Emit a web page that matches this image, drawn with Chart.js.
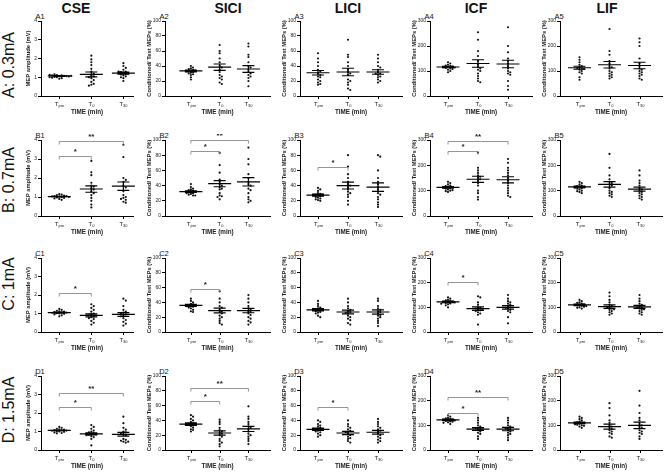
<!DOCTYPE html>
<html><head><meta charset="utf-8">
<script src="https://cdn.jsdelivr.net/npm/chart.js@4.4.1/dist/chart.umd.min.js"></script>
<style>
body{margin:0;background:#fff;width:669px;height:474px;position:relative;overflow:hidden;font-family:"Liberation Sans",Arial,sans-serif;color:#111}
canvas{position:absolute}
.hdr{position:absolute;font-weight:bold;font-size:14px;transform:translate(-50%,-50%);white-space:nowrap}
.row{position:absolute;font-size:16px;transform:translate(-50%,-50%) rotate(-90deg);white-space:nowrap}
.pl{position:absolute;font-size:7.5px;transform:translate(-50%,-50%);white-space:nowrap}
</style></head><body>
<script>
// ---------- text / axes ----------
const columns = ['CSE','SICI','LICI','ICF','LIF'];
const rowLabels = ['A: 0.3mA','B: 0.7mA','C: 1mA','D: 1.5mA'];
const rowLetters = ['A','B','C','D'];
const timeSubs = ['pre','0','30'];
const yMaxes = [4,100,100,300,300];
const ySteps = [1,20,20,100,100];
const yTitles = ['MEP amplitude (mV)','Conditioned/ Test MEPs (%)','Conditioned/ Test MEPs (%)','Conditioned/ Test MEPs (%)','Conditioned/ Test MEPs (%)'];
const xTitle = 'TIME (min)';

// ---------- data: [Tpre, T0, T30] ----------
const A1 = [[1.05,1.1,1.0,1.12,0.95,1.08,1.15,1.02,1.06,0.98,1.1,1.04,1.0,1.13,0.92,1.07],[2.15,1.95,1.8,1.65,1.45,1.3,1.2,1.1,1.05,0.95,0.85,0.75,0.65,0.6,0.55,1.0],[1.75,1.6,1.5,1.4,1.3,1.28,1.25,1.2,1.18,1.15,1.1,1.05,1.0,0.95,0.8,1.3]];
const A1_mean = [1.07,1.15,1.22], A1_sem = [0.02,0.13,0.06];
const A2 = [[40,38,37,36,35,34,34,33,33,32,31,30,29,28,25,22],[68,60,57,50,45,40,38,35,32,28,26,24,22,18,16],[70,66,55,52,45,40,38,35,32,30,28,26,24,20,13]];
const A2_mean = [33.5,38.5,36], A2_sem = [1.2,4.2,4.5];
const A3 = [[57,50,45,40,35,33,30,28,26,25,22,20,18,16,15],[75,55,52,45,40,35,32,30,28,22,20,18,15,10,8],[55,50,45,40,38,35,32,30,30,28,26,25,22,20,18]];
const A3_mean = [31,32,32], A3_sem = [3,5,3];
const A4 = [[135,130,125,122,120,118,116,115,114,112,110,108,105,100,95],[255,225,180,160,140,125,115,110,105,100,90,80,70,60,55],[275,200,175,150,140,130,120,110,100,95,90,85,60,40,25]];
const A4_mean = [116,130,128], A4_sem = [3,15,15];
const A5 = [[155,145,135,125,120,115,112,110,108,105,100,95,90,75,65],[268,180,165,140,130,120,115,110,100,95,90,85,80,75,70],[230,215,200,150,130,120,110,105,100,95,90,85,80,70,65]];
const A5_mean = [113,125,122], A5_sem = [6,13,13];

const B1 = [[1.15,1.12,1.1,1.08,1.05,1.05,1.03,1.02,1.0,1.0,0.98,0.95,0.92,0.9,0.85],[2.9,2.3,2.15,1.75,1.6,1.55,1.45,1.4,1.3,1.2,1.1,0.95,0.8,0.6,0.45],[3.75,3.1,2.0,1.9,1.8,1.6,1.5,1.3,1.1,1.0,0.95,0.9,0.85,0.75,0.7]];
const B1_mean = [1.02,1.42,1.57], B1_sem = [0.02,0.17,0.22];
const B2 = [[42,38,36,35,34,33,32,32,31,30,30,29,28,27,27],[83,67,57,48,45,42,40,38,36,35,30,27,26,25,22],[90,75,68,55,50,45,42,40,36,34,30,25,22,20,18]];
const B2_mean = [32,42.5,45], B2_sem = [1.1,4,5.5];
const B3 = [[37,35,33,30,29,28,28,27,26,25,24,23,22,21,20],[80,65,55,50,45,42,40,38,35,32,30,28,25,20,15],[80,78,60,50,45,42,38,35,30,28,25,22,18,15,12]];
const B3_mean = [27.5,40,38], B3_sem = [1.3,4.5,5.5];
const B4 = [[135,130,125,120,118,116,114,112,110,108,105,102,100,98,95],[250,190,180,170,160,155,150,145,140,130,120,100,90,75,65],[225,210,190,180,170,160,150,140,130,120,110,100,90,80,75]];
const B4_mean = [113,145,143], B4_sem = [3,12,12];
const B5 = [[135,130,125,120,118,115,113,112,110,108,105,100,98,95,90],[245,190,160,145,135,130,125,120,110,100,95,90,85,80,75],[180,160,140,130,120,110,105,100,95,90,85,80,75,70,65]];
const B5_mean = [115,125,106], B5_sem = [3,11,8];

const C1 = [[1.25,1.2,1.15,1.12,1.1,1.08,1.06,1.05,1.04,1.02,1.0,0.98,0.95,0.9,0.85],[1.5,1.4,1.3,1.2,1.1,1.0,0.95,0.9,0.85,0.8,0.75,0.7,0.6,0.5,0.4],[1.8,1.7,1.4,1.2,1.1,1.05,1.0,0.95,0.9,0.85,0.75,0.65,0.55,0.45,0.35]];
const C1_mean = [1.05,0.9,0.95], C1_sem = [0.03,0.08,0.1];
const C2 = [[45,42,40,38,37,36,36,35,35,34,33,32,30,28,27],[55,45,40,35,33,30,28,27,25,22,20,18,15,12,10],[50,45,40,35,32,30,28,27,25,23,20,18,15,13,10]];
const C2_mean = [36,29,29], C2_sem = [1.3,3.2,3];
const C3 = [[42,38,35,33,32,31,30,30,29,28,27,26,25,22,20],[45,40,35,32,30,28,27,26,25,22,20,18,16,12,10],[45,42,35,32,30,28,27,25,23,22,20,18,15,12,8]];
const C3_mean = [30,27,27], C3_sem = [1.5,2.5,2.8];
const C4 = [[140,135,130,128,125,123,122,121,120,118,116,115,112,108,100],[145,140,120,110,100,98,95,92,90,88,85,80,75,70,30],[150,135,125,120,115,110,105,100,98,95,90,85,80,60,35]];
const C4_mean = [122,95,100], C4_sem = [3,7,7];
const C5 = [[130,125,120,118,115,112,110,110,108,106,105,102,100,98,95],[160,145,130,120,110,105,100,98,95,92,90,85,80,75,70],[150,135,125,115,110,105,100,98,95,92,90,85,80,75,70]];
const C5_mean = [110,103,102], C5_sem = [3,7,6];

const D1 = [[1.25,1.2,1.15,1.12,1.1,1.08,1.06,1.05,1.04,1.02,1.0,0.98,0.95,0.92,0.9],[1.35,1.25,1.15,1.05,1.0,0.95,0.9,0.88,0.85,0.82,0.8,0.75,0.7,0.6,0.25],[1.8,1.45,1.2,1.1,1.0,0.95,0.9,0.85,0.8,0.6,0.55,0.5,0.45,0.45,0.4]];
const D1_mean = [1.06,0.87,0.85], D1_sem = [0.02,0.06,0.1];
const D2 = [[47,45,42,40,38,36,35,35,34,33,32,30,28,27,25],[41,38,35,30,27,25,23,22,20,18,15,12,10,8,5],[59,45,42,38,35,32,30,28,25,22,20,18,15,12,8]];
const D2_mean = [35,23,28.5], D2_sem = [1.6,2.8,3.5];
const D3 = [[40,38,35,33,32,30,29,28,27,26,25,24,22,20,18],[40,35,32,30,28,26,25,24,22,20,18,16,15,12,10],[42,38,35,32,30,28,26,25,22,20,18,16,14,12,10]];
const D3_mean = [28,23,24], D3_sem = [1.5,2.2,2.5];
const D4 = [[140,135,130,128,125,124,122,121,120,118,116,115,112,110,105],[130,120,110,100,95,90,88,85,82,80,75,70,65,55,45],[130,120,110,100,95,90,88,85,80,75,70,65,60,50,40]];
const D4_mean = [122,85,85], D4_sem = [3,6,7];
const D5 = [[135,130,125,120,115,112,110,108,106,104,102,100,98,95,90],[190,170,140,120,110,100,95,90,85,80,75,70,65,55,50],[240,180,150,130,120,105,100,95,90,80,75,70,65,55,45]];
const D5_mean = [110,95,100], D5_sem = [3,10,13];

// significance brackets: [fromGroup, toGroup, yLevel, label]
const B1_sig = [[0,1,3.17,'*'],[0,2,3.97,'**']];
const B2_sig = [[0,1,86,'*'],[0,2,100,'**']];
const B3_sig = [[0,1,65,'*']];
const B4_sig = [[0,1,255,'*'],[0,2,298,'**']];
const C1_sig = [[0,1,2.1,'*']];
const C2_sig = [[0,1,58,'*']];
const C4_sig = [[0,1,204,'*']];
const D1_sig = [[0,1,2.34,'*'],[0,2,3.1,'**']];
const D2_sig = [[0,1,66,'*'],[0,2,84,'**']];
const D3_sig = [[0,1,58,'*']];
const D4_sig = [[0,1,150,'*'],[0,2,215,'**']];

const panels = {
  A1:[A1,A1_mean,A1_sem,[]], A2:[A2,A2_mean,A2_sem,[]], A3:[A3,A3_mean,A3_sem,[]], A4:[A4,A4_mean,A4_sem,[]], A5:[A5,A5_mean,A5_sem,[]],
  B1:[B1,B1_mean,B1_sem,B1_sig], B2:[B2,B2_mean,B2_sem,B2_sig], B3:[B3,B3_mean,B3_sem,B3_sig], B4:[B4,B4_mean,B4_sem,B4_sig], B5:[B5,B5_mean,B5_sem,[]],
  C1:[C1,C1_mean,C1_sem,C1_sig], C2:[C2,C2_mean,C2_sem,C2_sig], C3:[C3,C3_mean,C3_sem,[]], C4:[C4,C4_mean,C4_sem,C4_sig], C5:[C5,C5_mean,C5_sem,[]],
  D1:[D1,D1_mean,D1_sem,D1_sig], D2:[D2,D2_mean,D2_sem,D2_sig], D3:[D3,D3_mean,D3_sem,D3_sig], D4:[D4,D4_mean,D4_sem,D4_sig], D5:[D5,D5_mean,D5_sem,[]]
};

// ---------- layout ----------
const axisX = [41,165,300,430,560];
const plotW = [92,105,102,102,102];
const xMin = [-0.57,-0.9,-0.6,-0.6,-0.65];
const xMax = [2.3,2.75,2.8,2.8,2.75];
const yAxisW = [16,19,19,19,19];
const plotTop = [21,140,258,376];
const plotH = [75,76,74,74];
const X_AXIS_H = 21;
const hdrX = [76,228,348,476,607];
const rowCenterY = [65,180,284,410];

Chart.defaults.font.family = '"Liberation Sans", Arial, sans-serif';
Chart.defaults.color = '#222';

function swarm(vals, tol) {
  const placed = [];
  const slots = [0,1,-1,2,-2,3,-3,4,-4,5,-5];
  return vals.map(v => {
    for (const s of slots) {
      if (!placed.some(p => p.s === s && Math.abs(p.v - v) < tol)) { placed.push({s,v}); return s; }
    }
    return 0;
  });
}

columns.forEach((c,ci) => {
  const d = document.createElement('div'); d.className='hdr'; d.textContent=c;
  d.style.left=hdrX[ci]+'px'; d.style.top='8px'; document.body.appendChild(d);
});
rowLabels.forEach((r,ri) => {
  const d = document.createElement('div'); d.className='row'; d.textContent=r;
  d.style.left='9px'; d.style.top=rowCenterY[ri]+'px'; document.body.appendChild(d);
});

rowLetters.forEach((L,ri) => {
  columns.forEach((col,ci) => {
    const id = L + (ci+1);
    const [vals, mean, sem, sig] = panels[id];
    const yMax = yMaxes[ci];
    const lab = document.createElement('div'); lab.className='pl'; lab.textContent=id;
    lab.style.left=(axisX[ci]-1)+'px'; lab.style.top=(plotTop[ri]-5)+'px'; document.body.appendChild(lab);

    const cv = document.createElement('canvas');
    cv.width = yAxisW[ci] + plotW[ci] + 2; cv.height = 6 + plotH[ri] + X_AXIS_H;
    document.body.appendChild(cv);

    const pts = [];
    vals.forEach((g,gi) => {
      const off = swarm(g, yMax*0.03);
      g.forEach((v,k) => pts.push({x: gi + off[k]*0.075, y: v}));
    });

    const statsPlugin = {
      id: 'stats',
      afterDatasetsDraw(chart) {
        const ctx = chart.ctx, xs = chart.scales.x, ys = chart.scales.y, area = chart.chartArea;
        ctx.save();
        ctx.strokeStyle = '#000'; ctx.lineWidth = 1.2;
        mean.forEach((m,gi) => {
          const px = xs.getPixelForValue(gi), py = ys.getPixelForValue(m);
          const pt = ys.getPixelForValue(m+sem[gi]), pb = ys.getPixelForValue(m-sem[gi]);
          ctx.beginPath();
          ctx.moveTo(px-11.5,py); ctx.lineTo(px+11.5,py);
          ctx.moveTo(px,pt); ctx.lineTo(px,pb);
          ctx.moveTo(px-6,pt); ctx.lineTo(px+6,pt);
          ctx.moveTo(px-6,pb); ctx.lineTo(px+6,pb);
          ctx.stroke();
        });
        // brackets
        ctx.strokeStyle = '#8a8a8a'; ctx.lineWidth = 0.9; ctx.fillStyle = '#222';
        ctx.font = 'bold 8px "Liberation Sans", Arial'; ctx.textAlign='center'; ctx.textBaseline='bottom';
        sig.forEach(([a,b,lv,t]) => {
          const x1 = xs.getPixelForValue(a), x2 = xs.getPixelForValue(b), py = Math.round(ys.getPixelForValue(lv))+0.5;
          ctx.beginPath();
          ctx.moveTo(x1,py+3); ctx.lineTo(x1,py); ctx.lineTo(x2,py); ctx.lineTo(x2,py+3);
          ctx.stroke();
          ctx.fillText(t,(x1+x2)/2,py-1);
        });
        // x ticks + labels
        ctx.strokeStyle='#000'; ctx.lineWidth=1;
        ctx.fillStyle='#222'; ctx.textBaseline='alphabetic';
        timeSubs.forEach((s,gi) => {
          const px = Math.round(xs.getPixelForValue(gi))+0.5;
          ctx.beginPath(); ctx.moveTo(px,area.bottom); ctx.lineTo(px,area.bottom+3); ctx.stroke();
          ctx.font = '6px "Liberation Sans", Arial';
          const tw = ctx.measureText('T').width;
          ctx.font = '4px "Liberation Sans", Arial';
          const sw = ctx.measureText(s).width;
          const x0 = px - (tw+sw)/2;
          ctx.textAlign='left';
          ctx.font = '6px "Liberation Sans", Arial';
          ctx.fillText('T', x0, area.bottom+9.5);
          ctx.font = '4px "Liberation Sans", Arial';
          ctx.fillText(s, x0+tw, area.bottom+11);
        });
        ctx.restore();
      }
    };

    const chart = new Chart(cv, {
      type: 'scatter',
      data: { datasets: [{ data: pts, backgroundColor:'#111', borderColor:'#111', pointRadius:1.1, pointHoverRadius:1.1, borderWidth:0 }] },
      options: {
        responsive:false, maintainAspectRatio:false, animation:false, devicePixelRatio:1,
        layout:{ padding:{ top:6, right:2, left:0, bottom:0 } },
        plugins:{ legend:{display:false}, tooltip:{enabled:false} },
        scales:{
          x:{ type:'linear', min:xMin[ci], max:xMax[ci],
              grid:{display:false}, ticks:{display:false},
              border:{display:true,color:'#000',width:1},
              title:{display:true,text:xTitle,font:{size:6.3,weight:'bold'},color:'#222',padding:{top:0,bottom:1}},
              afterFit(s){ s.height = X_AXIS_H; } },
          y:{ type:'linear', min:0, max:yMax,
              ticks:{stepSize:ySteps[ci],font:{size:5},color:'#222',padding:1},
              grid:{display:true,drawOnChartArea:false,drawTicks:true,tickLength:3,color:'#000',lineWidth:1},
              border:{display:true,color:'#000',width:1},
              title:{display:true,text:yTitles[ci],font:{size:5.8,weight:'bold'},color:'#222',padding:{top:0,bottom:1}},
              afterFit(s){ s.width = yAxisW[ci]; } }
        }
      },
      plugins:[statsPlugin]
    });
    // fit the canvas so that the plot area has the intended size, then place it
    for (let it = 0; it < 4; it++) {
      const a = chart.chartArea;
      const nw = Math.round(chart.width + plotW[ci] - (a.right - a.left));
      const nh = Math.round(chart.height + plotH[ri] - (a.bottom - a.top));
      if (nw === chart.width && nh === chart.height) break;
      chart.resize(nw, nh);
    }
    const a = chart.chartArea;
    cv.style.left = (axisX[ci] - a.left) + 'px';
    cv.style.top = (plotTop[ri] - a.top) + 'px';
  });
});
</script>
</body></html>
